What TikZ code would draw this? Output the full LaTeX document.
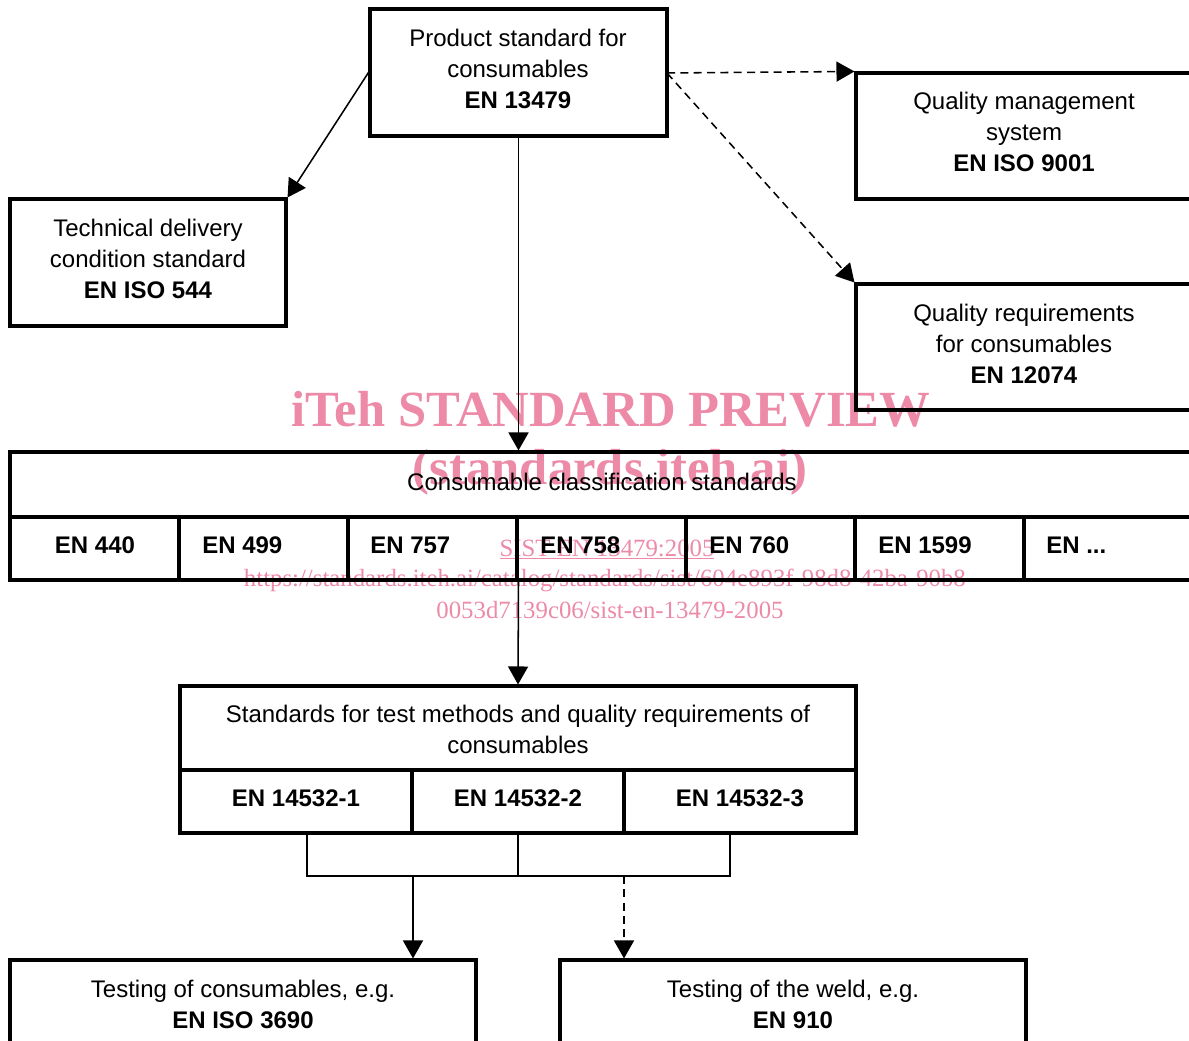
\documentclass[tikz,border=0pt]{standalone}
\usepackage{fontspec}
\setmainfont{Liberation Sans}
\newfontfamily\wmfont{Liberation Serif}
\usetikzlibrary{arrows.meta,fit}
\definecolor{wmpink}{RGB}{236,138,168}
\begin{document}
\begin{tikzpicture}[x=0.75pt,y=-0.75pt,
  box/.style={draw,line width=2.3pt,inner sep=0pt},
  txt/.style={align=center,font=\fontsize{18}{23.25}\selectfont,inner sep=0pt},
  celltxt/.style={font=\fontsize{18}{23.25}\selectfont\bfseries,inner sep=0pt},
  conn/.style={line width=1.15pt},
  thin/.style={line width=1pt},
  arr/.style={conn,-{Triangle[length=13.5pt,width=15pt]}},
  dsh/.style={dash pattern=on 6pt off 4pt},
  wmbig/.style={text=wmpink,font=\wmfont\bfseries\fontsize{38}{40}\selectfont,inner sep=0pt,anchor=base},
  wmsmall/.style={text=wmpink,font=\wmfont\fontsize{18.6}{21}\selectfont,inner sep=0pt,anchor=base}
]
\path[use as bounding box] (0,0) rectangle (1189,1041);
\clip (0,0) rectangle (1189,1041);

% watermark
\node[wmbig] (wm1) at (611,426) {iTeh STANDARD PREVIEW};
\node[wmbig] (wm2) at (610,484) {(standards.iteh.ai)};
\node[wmsmall] (wm3) at (607,556) {\underline{SIST EN 13479:2005}};
\node[wmsmall] (wm4) at (609,586) {https://standards.iteh.ai/catalog/standards/sist/604e893f-98d8-42ba-90b8-};
\node[wmsmall] (wm5) at (610,618) {0053d7139c06/sist-en-13479-2005};

% top boxes
\node[box,fit={(370,9) (667,136)}] (prod) {};
\node[txt] (prodt) at (518,69) {Product standard for\\consumables\\\textbf{EN 13479}};
\node[box,fit={(10,199) (286,326)}] (tech) {};
\node[txt] (techt) at (148,259) {Technical delivery\\condition standard\\\textbf{EN ISO 544}};
\node[box,fit={(856,73) (1200,199)}] (qms) {};
\node[txt] (qmst) at (1024,132) {Quality management\\system\\\textbf{EN ISO 9001}};
\node[box,fit={(856,284) (1200,410)}] (qr) {};
\node[txt] (qrt) at (1024,344) {Quality requirements\\for consumables\\\textbf{EN 12074}};

% classification table
\node[box,fit={(10,452) (1194,517)}] (cls) {};
\node[txt] (clst) at (602,482) {Consumable classification standards};
\foreach \i in {0,...,6}{
  \node[box,fit={({10+169*\i},517) ({179+169*\i},580)}] (c\i) {};
}
\node[celltxt] (c0t) at (95,545) {EN 440};
\node[celltxt,anchor=west] (c1t) at (202,545) {EN 499};
\node[celltxt,anchor=west] (c2t) at (370,545) {EN 757};
\node[celltxt,anchor=west] (c3t) at (540,545) {EN 758};
\node[celltxt,anchor=west] (c4t) at (709,545) {EN 760};
\node[celltxt,anchor=west] (c5t) at (878,545) {EN 1599};
\node[celltxt,anchor=west] (c6t) at (1046,545) {EN ...};

% test methods table
\node[box,fit={(180,686) (856,770)}] (tst) {};
\node[txt] (tstt) at (518,729.5) {Standards for test methods and quality requirements of\\consumables};
\node[box,fit={(180,770) (412,833)}] (t1) {};
\node[box,fit={(412,770) (624,833)}] (t2) {};
\node[box,fit={(624,770) (856,833)}] (t3) {};
\node[celltxt] (t1t) at (296,798) {EN 14532-1};
\node[celltxt] (t2t) at (518,798) {EN 14532-2};
\node[celltxt] (t3t) at (740,798) {EN 14532-3};

% bottom boxes
\node[box,fit={(10,960) (476,1070)}] (bl) {};
\node[txt] (blt) at (243,1004) {Testing of consumables, e.g.\\\textbf{EN ISO 3690}};
\node[box,fit={(560,960) (1026,1070)}] (br) {};
\node[txt] (brt) at (793,1004) {Testing of the weld, e.g.\\\textbf{EN 910}};

% connectors
\coordinate (pe) at (667,73);
\draw[arr] (prod.west) -- (tech.north east);
\draw[arr,dsh] (pe) -- (qms.north west);
\draw[arr,dsh] (pe) -- (qr.north west);
\draw[arr] (prod.south) -- (prod.south |- cls.north);
\draw[arr] (prod.south |- c3.south) -- (tst.north);

% bracket
\coordinate (b1) at (307,876);
\coordinate (b2) at (518,876);
\coordinate (b3) at (730,876);
\draw[thin] (b1 |- t1.south) -- (b1) -- (b3) -- (b3 |- t3.south);
\draw[thin] (b2 |- t2.south) -- (b2);
\coordinate (d1) at (413,876);
\coordinate (d2) at (624,876);
\draw[arr] (d1) -- (d1 |- bl.north);
\draw[arr,dsh] (d2) -- (d2 |- br.north);
\end{tikzpicture}
\end{document}
